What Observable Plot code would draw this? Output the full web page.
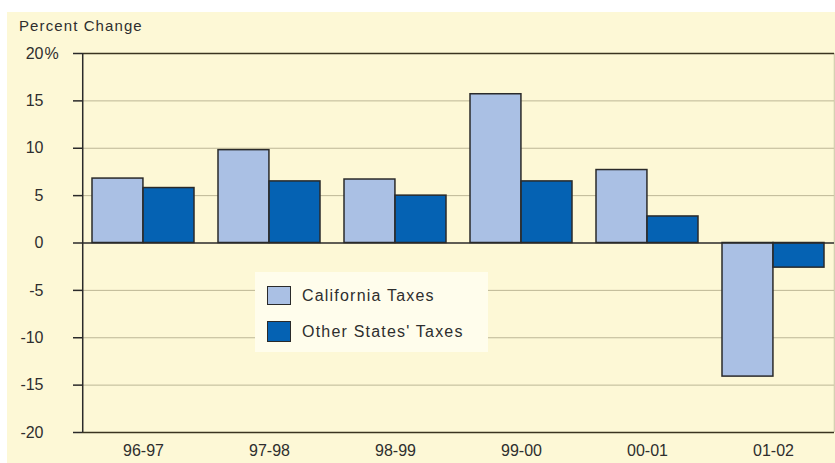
<!DOCTYPE html>
<html>
<head>
<meta charset="utf-8">
<script src="https://cdn.jsdelivr.net/npm/d3@7"></script>
<script src="https://cdn.jsdelivr.net/npm/@observablehq/plot@0.6"></script>
<style>
  html, body { margin: 0; padding: 0; background: #ffffff; }
  #wrap { position: relative; width: 835px; height: 463px; overflow: hidden; font-family: "Liberation Sans", Arial, sans-serif; }
  #panel { position: absolute; left: 7px; top: 12px; right: 0; bottom: 0; background: #fdf8d6; }
  #title { position: absolute; left: 19px; top: 17px; font-size: 15px; letter-spacing: 1.1px; color: #2e2e2e; }
  #chart { position: absolute; left: 0; top: 0; }
  #legend { position: absolute; left: 255px; top: 272px; width: 233px; height: 80px; background: #fffdec; }
  .item { position: absolute; left: 12px; display: flex; align-items: center; font-size: 16px; letter-spacing: 1.2px; color: #2e2e2e; }
  .sw { width: 24px; height: 19px; border: 1.5px solid #2a2a2a; margin-right: 11px; box-sizing: border-box; }
</style>
</head>
<body>
<div id="wrap">
  <div id="panel"></div>
  <div id="chart"></div>
  <div id="title">Percent Change</div>
  <div id="legend"></div>
</div>
<script>
// Fiscal years and annual percent change in tax revenues
const years = ["96-97", "97-98", "98-99", "99-00", "00-01", "01-02"];
const californiaTaxes = [6.8, 9.8, 6.7, 15.7, 7.7, -14.1];
const otherStatesTaxes = [5.8, 6.5, 5.0, 6.5, 2.8, -2.6];
const seriesNames = ["California Taxes", "Other States' Taxes"];
const seriesColors = ["#aac0e4", "#0562b3"];
const yTicks = [-20, -15, -10, -5, 0, 5, 10, 15, 20];
const gridTicks = [-15, -10, -5, 5, 10, 15];

const caRows = years.map((year, i) => ({year, series: seriesNames[0], value: californiaTaxes[i]}));
const otherRows = years.map((year, i) => ({year, series: seriesNames[1], value: otherStatesTaxes[i]}));

const W = 835, H = 463;
const ml = 82, mr = 1, mt = 53, mb = 31;
const pInner = 0.19, pOuter = 0.077;
const step = (W - ml - mr) / (years.length - pInner + 2 * pOuter);
const half = step * (1 - pInner) / 2;
// distance from a band centre at either end out to the frame edge
const edge = step * pOuter + half;

const ink = "#2a2a2a";

const chart = Plot.plot({
  width: W,
  height: H,
  marginLeft: ml,
  marginRight: mr,
  marginTop: mt,
  marginBottom: mb,
  style: {background: "transparent", fontFamily: "Liberation Sans, Arial, sans-serif", color: "#2e2e2e"},
  x: {domain: years, paddingInner: pInner, paddingOuter: pOuter, label: null},
  y: {domain: [-20, 20], label: null},
  color: {domain: seriesNames, range: seriesColors},
  marks: [
    Plot.ruleY(gridTicks, {stroke: "#bdb796", strokeWidth: 1}),
    Plot.ruleX([years[years.length - 1]], {dx: edge, y1: -20, y2: 20, stroke: "#c9c4a8", strokeWidth: 1}),
    Plot.barY(caRows, {x: "year", y: "value", fill: d => d.series, stroke: ink, strokeWidth: 1.5, insetRight: half}),
    Plot.barY(otherRows, {x: "year", y: "value", fill: d => d.series, stroke: ink, strokeWidth: 1.5, insetLeft: half}),
    Plot.ruleY([0], {stroke: ink, strokeWidth: 1.5}),
    Plot.ruleY([20, -20], {stroke: "#3a3420", strokeWidth: 1.5}),
    Plot.axisY({ticks: yTicks, tickSize: 9, tickPadding: 30, tickFormat: d => String(d), fontSize: 16, stroke: ink, strokeWidth: 1.5, label: null, style: {letterSpacing: "0.8px"}}),
    Plot.ruleX([years[0]], {dx: -edge, y1: -20, y2: 20, stroke: ink, strokeWidth: 1.5}),
    Plot.text(["%"], {frameAnchor: "left", y: 20, dx: -38, textAnchor: "start", fontSize: 16, fill: "#2e2e2e"}),
    Plot.axisX({tickSize: 0, tickPadding: 12, fontSize: 16, label: null, style: {letterSpacing: "0.4px"}})
  ]
});
document.getElementById("chart").appendChild(chart);

// Legend built from the same color scale
const legend = document.getElementById("legend");
const color = chart.scale("color");
seriesNames.forEach((name, i) => {
  const item = document.createElement("div");
  item.className = "item";
  item.style.top = (i === 0 ? 14 : 49) + "px";
  const sw = document.createElement("div");
  sw.className = "sw";
  sw.style.background = color.range[color.domain.indexOf(name)];
  if (i === 1) sw.style.height = "21px";
  const label = document.createElement("span");
  label.textContent = name;
  item.appendChild(sw);
  item.appendChild(label);
  legend.appendChild(item);
});
</script>
</body>
</html>
